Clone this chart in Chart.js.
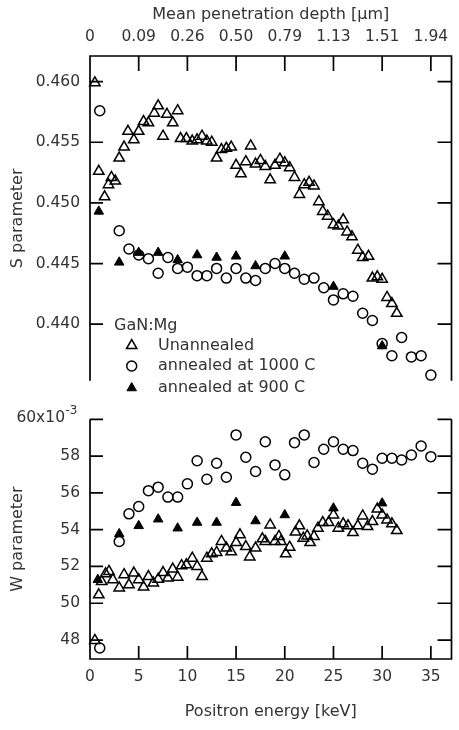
<!DOCTYPE html>
<html>
<head>
<meta charset="utf-8">
<title>S and W parameters vs positron energy</title>
<script src="https://cdn.jsdelivr.net/npm/chart.js@4.4.1/dist/chart.umd.min.js"></script>
<style>
  html, body { margin: 0; padding: 0; background: #fff; }
  #wrap { position: relative; width: 459px; height: 730px; }
  canvas { position: absolute; left: 0; }
  #sChart { top: 0; }
  #wChart { top: 400px; }
</style>
</head>
<body>
<div id="wrap">
  <canvas id="sChart" width="459" height="400"></canvas>
  <canvas id="wChart" width="459" height="330"></canvas>
</div>
<script>
// axis ticks; the top axis shows mean penetration depth at the same energies
const energyTicks = [0, 5, 10, 15, 20, 25, 30, 35];
const energyLabels = ['0', '5', '10', '15', '20', '25', '30', '35'];
const depthLabels = ['0', '0.09', '0.26', '0.50', '0.79', '1.13', '1.51', '1.94'];
const sTicks = [0.440, 0.445, 0.450, 0.455, 0.460];
const wTicks = [48, 50, 52, 54, 56, 58, 60];

const sampleName = 'GaN:Mg';
const seriesNames = ['Unannealed', 'annealed at 1000 C', 'annealed at 900 C'];

// [positron energy keV, S parameter]
const sUnannealed = [
  [0.5, 0.4599], [0.9, 0.4526], [1.5, 0.4505], [1.9, 0.4515], [2.2, 0.4521], [2.6, 0.4518],
  [3.0, 0.4537], [3.5, 0.4546], [3.9, 0.4559], [4.5, 0.4552], [5.0, 0.4559], [5.5, 0.4567],
  [6.0, 0.4566], [6.6, 0.4574], [7.0, 0.4580], [7.5, 0.4555], [7.9, 0.4573], [8.5, 0.4566],
  [9.0, 0.4576], [9.3, 0.4553], [9.9, 0.4553], [10.5, 0.4551], [11.0, 0.4552], [11.5, 0.4555],
  [12.0, 0.4551], [12.5, 0.4550], [13.0, 0.4537], [13.5, 0.4544], [14.0, 0.4545], [14.5, 0.4546],
  [15.0, 0.4531], [15.5, 0.4524], [16.0, 0.4534], [16.5, 0.4547], [17.0, 0.4532], [17.5, 0.4535],
  [18.0, 0.4530], [18.5, 0.4519], [19.0, 0.4531], [19.5, 0.4536], [20.0, 0.4533], [20.5, 0.4529],
  [21.0, 0.4521], [21.5, 0.4507], [22.0, 0.4515], [22.5, 0.4517], [23.0, 0.4514], [23.5, 0.4501],
  [23.9, 0.4493], [24.4, 0.4489], [25.0, 0.4482], [25.5, 0.4481], [26.0, 0.4486], [26.4, 0.4476],
  [26.9, 0.4472], [27.5, 0.4461], [28.0, 0.4455], [28.6, 0.4456], [29.0, 0.4438], [29.5, 0.4439],
  [30.0, 0.4437], [30.5, 0.4422], [31.0, 0.4417], [31.5, 0.4409]
];
const s1000 = [
  [1, 0.4576], [3, 0.4477], [4, 0.4462], [5, 0.4457], [6, 0.4454], [7, 0.4442], [8, 0.4455],
  [9, 0.4446], [10, 0.4447], [11, 0.4440], [12, 0.4440], [13, 0.4446], [14, 0.4438], [15, 0.4446],
  [16, 0.4438], [17, 0.4436], [18, 0.4446], [19, 0.4450], [20, 0.4446], [21, 0.4442], [22, 0.4437],
  [23, 0.4438], [24, 0.4430], [25, 0.4420], [26, 0.4425], [27, 0.4423], [28, 0.4409], [29, 0.4403],
  [30, 0.4384], [31, 0.4374], [32, 0.4389], [33, 0.4373], [34, 0.4374], [35, 0.4358]
];
const s900 = [
  [0.9, 0.4493], [3, 0.4451], [5, 0.4459], [7, 0.4459], [9, 0.4453], [11, 0.4457],
  [13, 0.4455], [15, 0.4456], [17, 0.4448], [20, 0.4456], [25, 0.4431], [30, 0.4382]
];

// [positron energy keV, W parameter x10^-3]
const wUnannealed = [
  [0.5, 47.98], [0.9, 50.46], [1.2, 51.18], [1.6, 51.60], [1.95, 51.73], [2.35, 51.28],
  [3.0, 50.83], [3.5, 51.55], [4.0, 51.00], [4.5, 51.64], [5.0, 51.28], [5.5, 50.88],
  [6.0, 51.45], [6.5, 51.10], [7.0, 51.31], [7.5, 51.67], [8.0, 51.37], [8.5, 51.86],
  [9.0, 51.42], [9.4, 52.04], [9.9, 52.09], [10.5, 52.45], [11.0, 52.00], [11.5, 51.45],
  [12.0, 52.45], [12.5, 52.69], [13.0, 52.76], [13.5, 53.36], [14.0, 53.00], [14.5, 52.80],
  [15.0, 53.30], [15.4, 53.72], [16.0, 53.08], [16.4, 52.52], [17.0, 53.00], [17.7, 53.50],
  [18.0, 53.36], [18.5, 54.26], [19.0, 53.36], [19.4, 53.63], [19.6, 53.36], [20.1, 52.69],
  [20.5, 53.05], [21.1, 53.87], [21.5, 54.21], [21.9, 53.54], [22.3, 53.66], [22.6, 53.30],
  [23.0, 53.63], [23.4, 54.08], [23.9, 54.39], [24.5, 54.39], [25.0, 54.80], [25.5, 54.08],
  [26.0, 54.32], [26.5, 54.21], [27.0, 53.84], [27.5, 54.21], [28.0, 54.75], [28.5, 54.17],
  [29.0, 54.44], [29.5, 55.12], [30.0, 54.80], [30.5, 54.53], [31.0, 54.32], [31.5, 53.95]
];
const w1000 = [
  [1, 47.57], [3, 53.36], [4, 54.86], [5, 55.26], [6, 56.12], [7, 56.31], [8, 55.77],
  [9, 55.77], [10, 56.49], [11, 57.75], [12, 56.74], [13, 57.61], [14, 56.85], [15, 59.15],
  [16, 57.94], [17, 57.16], [18, 58.78], [19, 57.52], [20, 56.98], [21, 58.73], [22, 59.15],
  [23, 57.65], [24, 58.37], [25, 58.78], [26, 58.37], [27, 58.30], [28, 57.61], [29, 57.29],
  [30, 57.88], [31, 57.88], [32, 57.79], [33, 58.06], [34, 58.55], [35, 57.97]
];
const w900 = [
  [0.8, 51.28], [3, 53.77], [5, 54.21], [7, 54.57], [9, 54.08], [11, 54.39],
  [13, 54.39], [15, 55.47], [17, 54.47], [20, 54.80], [25, 55.17], [30, 55.44]
];

Chart.defaults.font.family = "'DejaVu Sans', sans-serif";
Chart.defaults.font.size = 15.5;
Chart.defaults.color = '#333';
Chart.defaults.animation = false;

const markers = [
  { pointStyle: 'triangle', pointRadius: 6, fill: 'rgba(0,0,0,0)', lw: 1.5 },
  { pointStyle: 'circle', pointRadius: 5, fill: 'rgba(0,0,0,0)', lw: 1.5 },
  { pointStyle: 'triangle', pointRadius: 5.5, fill: '#000', lw: 1 }
];

function makeDatasets(series) {
  return series.map((arr, i) => ({
    label: seriesNames[i],
    data: arr.map(p => ({ x: p[0], y: p[1] })),
    showLine: false,
    pointStyle: markers[i].pointStyle,
    pointRadius: markers[i].pointRadius,
    pointHoverRadius: markers[i].pointRadius,
    pointBackgroundColor: markers[i].fill,
    pointBorderColor: '#000',
    pointBorderWidth: markers[i].lw,
    clip: false,
    order: 3 - i
  }));
}

function drawMarker(ctx, m, x, y) {
  ctx.beginPath();
  if (m.pointStyle === 'circle') {
    ctx.arc(x, y, m.pointRadius, 0, Math.PI * 2);
  } else {
    for (let k = 0; k < 3; k++) {
      const a = k * 2 * Math.PI / 3;
      const px = x + Math.sin(a) * m.pointRadius, py = y - Math.cos(a) * m.pointRadius;
      if (k === 0) ctx.moveTo(px, py); else ctx.lineTo(px, py);
    }
    ctx.closePath();
  }
  ctx.fillStyle = m.fill;
  ctx.fill();
  ctx.lineWidth = m.lw;
  ctx.strokeStyle = '#000';
  ctx.stroke();
}

// open frame + inward tick marks, drawn from the chart's own scales
const framePlugin = {
  id: 'frame',
  afterDraw(chart, args, opts) {
    const { ctx, chartArea: a, scales: { x, y } } = chart;
    ctx.save();
    ctx.strokeStyle = '#000';
    ctx.lineWidth = 1.7;
    ctx.beginPath();
    if (opts.top) {
      ctx.moveTo(a.left, a.bottom); ctx.lineTo(a.left, a.top);
      ctx.lineTo(a.right, a.top); ctx.lineTo(a.right, a.bottom);
    } else {
      ctx.moveTo(a.left, a.top); ctx.lineTo(a.left, a.bottom);
      ctx.lineTo(a.right, a.bottom); ctx.lineTo(a.right, a.top);
    }
    y.ticks.forEach(t => {
      const py = y.getPixelForValue(t.value);
      ctx.moveTo(a.left, py); ctx.lineTo(a.left + 13, py);
      ctx.moveTo(a.right, py); ctx.lineTo(a.right - 14, py);
    });
    x.ticks.forEach(t => {
      const px = x.getPixelForValue(t.value);
      if (opts.top) { ctx.moveTo(px, a.top); ctx.lineTo(px, a.top + 15); }
      else { ctx.moveTo(px, a.bottom); ctx.lineTo(px, a.bottom - 13); }
    });
    ctx.stroke();

    if (opts.legend) {
      ctx.fillStyle = '#333';
      ctx.font = "16px 'DejaVu Sans', sans-serif";
      ctx.textBaseline = 'middle';
      ctx.textAlign = 'left';
      ctx.fillText(sampleName, 114, 325.5);
      const rows = [345.5, 366, 388];
      chart.data.datasets.forEach((ds, i) => {
        drawMarker(ctx, markers[i], 131.7, rows[i]);
        ctx.fillStyle = '#333';
        ctx.fillText(ds.label, 158, rows[i]);
      });
    }
    if (opts.exponent) {
      ctx.fillStyle = '#333';
      ctx.textBaseline = 'middle';
      ctx.textAlign = 'right';
      ctx.font = "15.5px 'DejaVu Sans', sans-serif";
      ctx.fillText('60x10', 65, 18);
      ctx.textAlign = 'left';
      ctx.font = "12px 'DejaVu Sans', sans-serif";
      ctx.fillText('-3', 65.5, 11);
    }
    ctx.restore();
  }
};

const sChart = new Chart(document.getElementById('sChart'), {
  type: 'scatter',
  data: { datasets: makeDatasets([sUnannealed, s1000, s900]) },
  options: {
    responsive: false,
    layout: { padding: { left: 0, right: 2, top: 0, bottom: 5 } },
    plugins: { legend: { display: false }, tooltip: { enabled: false }, frame: { top: true, legend: true } },
    scales: {
      x: {
        type: 'linear', position: 'top', min: 0, max: 37.12,
        grid: { display: false, drawTicks: false }, border: { display: false },
        afterBuildTicks: axis => { axis.ticks = energyTicks.map(v => ({ value: v })); },
        afterFit: axis => { axis.height = 56; },
        ticks: { autoSkip: false, maxRotation: 0, padding: 9.7, callback: v => depthLabels[energyTicks.indexOf(v)] },
        title: { display: true, text: 'Mean penetration depth [µm]', font: { size: 16 }, padding: { top: 5.4, bottom: 0 } }
      },
      y: {
        position: 'left', min: 0.43534, max: 0.46211,
        grid: { display: false, drawTicks: false }, border: { display: false },
        afterBuildTicks: axis => { axis.ticks = sTicks.map(v => ({ value: v })); },
        afterFit: axis => { axis.width = 90; },
        ticks: { padding: 10, callback: v => v.toFixed(3) },
        title: { display: true, text: 'S parameter', font: { size: 16 }, padding: { top: 8.4, bottom: 0 } }
      }
    }
  },
  plugins: [framePlugin]
});

const wChart = new Chart(document.getElementById('wChart'), {
  type: 'scatter',
  data: { datasets: makeDatasets([wUnannealed, w1000, w900]) },
  options: {
    responsive: false,
    layout: { padding: { left: 0, right: 2, top: 19, bottom: 0 } },
    plugins: { legend: { display: false }, tooltip: { enabled: false }, frame: { top: false, exponent: true } },
    scales: {
      x: {
        type: 'linear', position: 'bottom', min: 0, max: 37.12,
        grid: { display: false, drawTicks: false }, border: { display: false },
        afterBuildTicks: axis => { axis.ticks = energyTicks.map(v => ({ value: v })); },
        afterFit: axis => { axis.height = 71; },
        ticks: { autoSkip: false, maxRotation: 0, padding: 8.7, callback: v => energyLabels[energyTicks.indexOf(v)] },
        title: { display: true, text: 'Positron energy [keV]', font: { size: 16 }, padding: { top: 0, bottom: 8.7 } }
      },
      y: {
        position: 'left', min: 46.97, max: 60,
        grid: { display: false, drawTicks: false }, border: { display: false },
        afterBuildTicks: axis => { axis.ticks = wTicks.map(v => ({ value: v })); },
        afterFit: axis => { axis.width = 90; },
        ticks: { padding: 10, callback: v => (v === 60 ? '' : String(v)) },
        title: { display: true, text: 'W parameter', font: { size: 16 }, padding: { top: 8.4, bottom: 0 } }
      }
    }
  },
  plugins: [framePlugin]
});
</script>
</body>
</html>
